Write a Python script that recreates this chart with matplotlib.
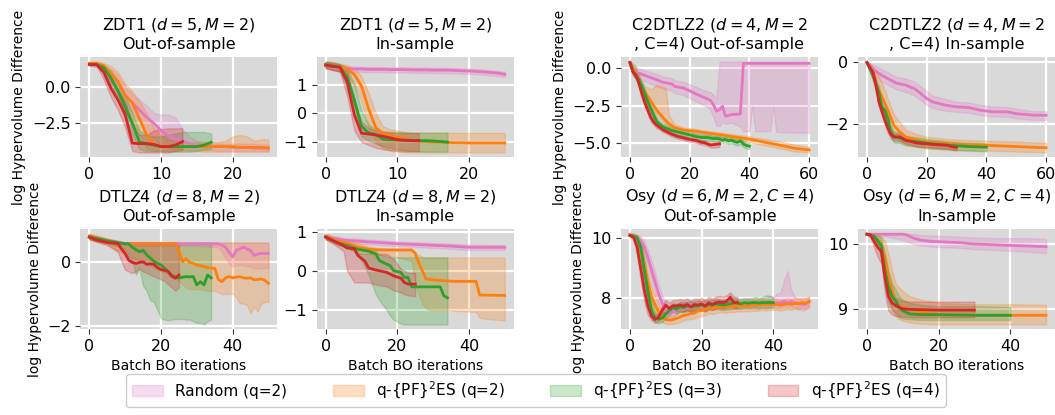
import matplotlib
matplotlib.use("Agg")
import matplotlib.pyplot as plt
from matplotlib.patches import Patch
from matplotlib.ticker import MultipleLocator

# ---------------------------------------------------------------------------
# Methods and colours
# ---------------------------------------------------------------------------
methods = ["rand", "q2", "q3", "q4"]
method_labels = ["Random (q=2)", "q-{PF}$^2$ES (q=2)", "q-{PF}$^2$ES (q=3)", "q-{PF}$^2$ES (q=4)"]
method_colors = ["#e377c2", "#ff7f0e", "#2ca02c", "#d62728"]

# ---------------------------------------------------------------------------
# ZDT1 (d=5, M=2) -- out-of-sample
# ---------------------------------------------------------------------------
zdt1_out_rand_x = list(range(26))
zdt1_out_rand_y = [1.52, 1.45, 1.2, 0.85, 0.3, -0.6, -1.1, -1.6, -2.1, -2.5, -3.0, -3.35, -3.6, -3.75, -3.9, -4.0, -4.05, -4.1, -4.1, -4.1, -4.15, -4.15, -4.15, -4.2, -4.2, -4.2]
zdt1_out_rand_hi = [1.62, 1.6, 1.45, 1.2, 0.8, 0.0, -0.5, -0.9, -1.3, -1.8, -1.9, -1.9, -2.1, -2.9, -3.4, -3.7, -3.8, -3.9, -3.9, -3.9, -3.9, -3.9, -3.9, -3.9, -3.95, -3.95]
zdt1_out_rand_lo = [1.45, 1.3, 0.9, 0.4, -0.3, -1.2, -1.8, -2.4, -3.0, -3.5, -4.0, -4.2, -4.3, -4.3, -4.35, -4.35, -4.35, -4.35, -4.4, -4.4, -4.4, -4.4, -4.4, -4.4, -4.4, -4.4]

zdt1_out_q2_x = list(range(26))
zdt1_out_q2_y = [1.6, 1.6, 1.45, 0.9, 0.35, -0.6, -1.1, -2.2, -3.3, -3.95, -4.05, -4.1, -4.1, -4.1, -4.1, -4.1, -4.1, -4.1, -4.1, -4.1, -4.1, -4.15, -4.15, -4.15, -4.15, -4.2]
zdt1_out_q2_hi = [1.72, 1.72, 1.62, 1.4, 1.0, 0.2, -0.3, -1.0, -1.8, -2.8, -3.3, -3.6, -3.7, -3.8, -3.8, -3.8, -3.8, -3.8, -3.8, -3.7, -3.4, -3.3, -3.4, -3.7, -3.6, -3.6]
zdt1_out_q2_lo = [1.5, 1.5, 1.2, 0.4, -0.3, -1.5, -2.2, -3.3, -4.2, -4.4, -4.4, -4.4, -4.4, -4.4, -4.4, -4.4, -4.45, -4.45, -4.45, -4.45, -4.45, -4.45, -4.45, -4.45, -4.45, -4.45]

zdt1_out_q3_x = list(range(18))
zdt1_out_q3_y = [1.52, 1.52, 1.3, 0.6, -0.3, -1.4, -2.5, -3.8, -3.9, -4.0, -4.1, -4.1, -4.1, -4.1, -4.1, -4.1, -4.0, -3.8]
zdt1_out_q3_hi = [1.62, 1.62, 1.5, 1.1, 0.4, -0.6, -1.8, -3.0, -3.3, -3.4, -3.4, -3.3, -3.2, -3.1, -3.1, -3.1, -3.1, -3.2]
zdt1_out_q3_lo = [1.45, 1.45, 1.1, 0.1, -1.0, -2.2, -3.3, -4.3, -4.4, -4.4, -4.4, -4.45, -4.45, -4.45, -4.45, -4.4, -4.3, -4.25]

zdt1_out_q4_x = list(range(14))
zdt1_out_q4_y = [1.52, 1.52, 1.0, -0.1, -0.9, -1.9, -3.86, -3.9, -3.9, -3.95, -4.1, -4.1, -4.0, -3.75]
zdt1_out_q4_hi = [1.62, 1.62, 1.4, 0.6, -0.2, -1.0, -2.5, -3.3, -3.3, -3.0, -2.9, -2.85, -2.85, -2.85]
zdt1_out_q4_lo = [1.45, 1.45, 0.5, -0.7, -1.6, -2.8, -4.4, -4.5, -4.5, -4.5, -4.5, -4.5, -4.4, -4.3]

# ---------------------------------------------------------------------------
# ZDT1 (d=5, M=2) -- in-sample
# ---------------------------------------------------------------------------
zdt1_in_rand_x = list(range(26))
zdt1_in_rand_y = [1.67, 1.6, 1.56, 1.55, 1.54, 1.54, 1.53, 1.53, 1.53, 1.52, 1.52, 1.52, 1.51, 1.51, 1.51, 1.5, 1.5, 1.5, 1.49, 1.48, 1.47, 1.46, 1.44, 1.42, 1.4, 1.36]
zdt1_in_rand_hi = [1.78, 1.7, 1.64, 1.63, 1.62, 1.62, 1.61, 1.61, 1.61, 1.6, 1.6, 1.6, 1.59, 1.59, 1.59, 1.58, 1.58, 1.58, 1.57, 1.56, 1.55, 1.54, 1.52, 1.5, 1.48, 1.45]
zdt1_in_rand_lo = [1.58, 1.5, 1.46, 1.45, 1.44, 1.44, 1.43, 1.43, 1.43, 1.42, 1.42, 1.42, 1.41, 1.41, 1.41, 1.4, 1.4, 1.4, 1.39, 1.38, 1.37, 1.36, 1.34, 1.32, 1.3, 1.27]

zdt1_in_q2_x = list(range(26))
zdt1_in_q2_y = [1.69, 1.65, 1.6, 1.55, 1.35, 0.95, 0.15, -0.5, -0.7, -0.78, -0.82, -0.88, -0.93, -0.97, -0.98, -1.0, -1.0, -1.01, -1.02, -1.02, -1.03, -1.03, -1.03, -1.03, -1.03, -1.03]
zdt1_in_q2_hi = [1.8, 1.78, 1.72, 1.68, 1.55, 1.3, 0.7, 0.0, -0.45, -0.55, -0.6, -0.65, -0.67, -0.68, -0.68, -0.68, -0.68, -0.68, -0.68, -0.68, -0.68, -0.68, -0.68, -0.68, -0.68, -0.68]
zdt1_in_q2_lo = [1.58, 1.52, 1.45, 1.35, 1.0, 0.4, -0.5, -1.0, -1.2, -1.3, -1.33, -1.35, -1.36, -1.36, -1.36, -1.36, -1.36, -1.36, -1.36, -1.36, -1.36, -1.36, -1.36, -1.36, -1.36, -1.36]

zdt1_in_q3_x = list(range(18))
zdt1_in_q3_y = [1.69, 1.65, 1.6, 1.26, 0.46, -0.45, -0.68, -0.74, -0.9, -0.92, -0.92, -0.93, -0.94, -0.95, -0.95, -0.96, -0.98, -1.0]
zdt1_in_q3_hi = [1.8, 1.78, 1.72, 1.6, 1.0, 0.1, -0.4, -0.55, -0.62, -0.65, -0.65, -0.66, -0.67, -0.67, -0.67, -0.67, -0.67, -0.67]
zdt1_in_q3_lo = [1.58, 1.52, 1.45, 0.9, -0.1, -0.8, -0.95, -1.05, -1.15, -1.2, -1.25, -1.28, -1.3, -1.32, -1.33, -1.33, -1.33, -1.33]

zdt1_in_q4_x = list(range(14))
zdt1_in_q4_y = [1.67, 1.63, 1.6, 1.1, -0.05, -0.69, -0.72, -0.75, -0.8, -0.85, -0.92, -0.94, -0.95, -0.95]
zdt1_in_q4_hi = [1.78, 1.75, 1.7, 1.5, 0.5, -0.3, -0.5, -0.6, -0.65, -0.67, -0.69, -0.69, -0.69, -0.69]
zdt1_in_q4_lo = [1.56, 1.5, 1.45, 0.6, -0.6, -1.0, -1.1, -1.2, -1.25, -1.28, -1.3, -1.32, -1.32, -1.32]

# ---------------------------------------------------------------------------
# DTLZ4 (d=8, M=2) -- out-of-sample
# ---------------------------------------------------------------------------
dtlz4_out_rand_x = [0, 5, 10, 15, 20, 25, 30, 36, 37, 38, 39, 40, 41, 42, 43, 44, 45, 46, 47, 48, 50]
dtlz4_out_rand_y = [0.77, 0.66, 0.57, 0.56, 0.56, 0.56, 0.56, 0.56, 0.52, 0.46, 0.3, 0.15, 0.36, 0.4, 0.46, 0.4, 0.36, 0.2, 0.24, 0.26, 0.26]
dtlz4_out_rand_hi = [0.85, 0.72, 0.62, 0.6, 0.6, 0.6, 0.6, 0.6, 0.6, 0.6, 0.6, 0.6, 0.6, 0.6, 0.6, 0.6, 0.6, 0.6, 0.6, 0.6, 0.6]
dtlz4_out_rand_lo = [0.7, 0.6, 0.52, 0.5, 0.5, 0.5, 0.5, 0.45, 0.3, 0.1, -0.05, -0.15, -0.1, -0.1, -0.1, -0.15, -0.15, -0.2, -0.2, -0.2, -0.2]

dtlz4_out_q2_x = [0, 5, 9, 10, 15, 20, 24, 25, 26, 27, 28, 29, 30, 31, 32, 33, 34, 35, 36, 37, 38, 39, 40, 41, 42, 43, 44, 45, 46, 47, 48, 49, 50]
dtlz4_out_q2_y = [0.8, 0.66, 0.57, 0.56, 0.56, 0.56, 0.56, 0.35, 0.0, 0.1, -0.02, -0.05, -0.1, -0.12, -0.15, -0.18, -0.2, -0.2, -0.55, -0.62, -0.5, -0.46, -0.5, -0.48, -0.46, -0.5, -0.51, -0.5, -0.56, -0.55, -0.53, -0.58, -0.67]
dtlz4_out_q2_hi = [0.88, 0.72, 0.62, 0.6, 0.6, 0.6, 0.6, 0.6, 0.6, 0.6, 0.6, 0.6, 0.6, 0.6, 0.6, 0.6, 0.6, 0.6, 0.6, 0.6, 0.6, 0.6, 0.6, 0.6, 0.6, 0.6, 0.6, 0.6, 0.6, 0.6, 0.6, 0.6, 0.6]
dtlz4_out_q2_lo = [0.72, 0.5, 0.3, 0.2, 0.0, -0.3, -0.5, -0.6, -0.7, -0.8, -0.85, -0.85, -0.85, -0.85, -0.88, -0.9, -0.9, -0.9, -0.95, -1.0, -1.0, -1.0, -1.0, -1.1, -1.3, -1.3, -1.35, -1.6, -1.4, -1.55, -1.3, -1.25, -1.25]

dtlz4_out_q3_x = [0, 5, 10, 11, 12, 13, 14, 15, 16, 17, 18, 19, 20, 21, 22, 23, 24, 25, 26, 27, 28, 29, 30, 31, 32, 33, 34]
dtlz4_out_q3_y = [0.77, 0.65, 0.56, 0.56, 0.45, 0.38, 0.31, 0.36, 0.22, 0.12, 0.02, -0.05, -0.1, -0.2, -0.3, -0.42, -0.48, -0.5, -0.48, -0.46, -0.47, -0.46, -0.72, -0.62, -0.72, -0.41, -0.5]
dtlz4_out_q3_hi = [0.85, 0.72, 0.6, 0.6, 0.6, 0.6, 0.6, 0.6, 0.6, 0.6, 0.6, 0.6, 0.6, 0.6, 0.6, 0.6, 0.6, 0.6, 0.6, 0.6, 0.6, 0.6, 0.6, 0.6, 0.6, 0.6, 0.6]
dtlz4_out_q3_lo = [0.7, 0.58, 0.4, 0.2, 0.0, -0.4, -0.2, -0.75, -0.9, -1.2, -1.25, -1.5, -1.75, -1.8, -1.82, -1.8, -1.78, -1.78, -1.78, -1.8, -1.8, -1.85, -1.9, -1.9, -1.95, -1.85, -1.8]

dtlz4_out_q4_x = [0, 2, 5, 8, 9, 10, 11, 12, 13, 14, 15, 16, 17, 18, 19, 20, 21, 22, 23, 24, 25]
dtlz4_out_q4_y = [0.77, 0.68, 0.6, 0.57, 0.4, 0.26, 0.05, -0.02, -0.05, -0.02, 0.0, -0.08, -0.06, -0.08, -0.18, -0.24, -0.27, -0.3, -0.45, -0.51, -0.41]
dtlz4_out_q4_hi = [0.85, 0.75, 0.66, 0.62, 0.6, 0.6, 0.6, 0.6, 0.6, 0.6, 0.6, 0.6, 0.6, 0.6, 0.6, 0.6, 0.6, 0.6, 0.6, 0.6, 0.6]
dtlz4_out_q4_lo = [0.7, 0.62, 0.54, 0.3, 0.0, -0.25, -0.3, -0.35, -0.3, -0.2, -0.3, -0.35, -0.4, -0.45, -0.5, -0.55, -0.6, -0.7, -0.8, -0.9, -0.8]

# ---------------------------------------------------------------------------
# DTLZ4 (d=8, M=2) -- in-sample
# ---------------------------------------------------------------------------
dtlz4_in_rand_x = [0, 5, 10, 15, 20, 25, 30, 35, 40, 45, 50]
dtlz4_in_rand_y = [0.86, 0.78, 0.75, 0.72, 0.69, 0.67, 0.65, 0.63, 0.6, 0.6, 0.6]
dtlz4_in_rand_hi = [0.92, 0.84, 0.81, 0.78, 0.75, 0.73, 0.71, 0.69, 0.67, 0.66, 0.66]
dtlz4_in_rand_lo = [0.8, 0.72, 0.69, 0.66, 0.63, 0.61, 0.58, 0.56, 0.53, 0.53, 0.53]

dtlz4_in_q2_x = [0, 3, 6, 9, 12, 15, 20, 24, 25, 26, 27, 28, 29, 31, 34, 36, 42, 43, 44, 50]
dtlz4_in_q2_y = [0.88, 0.77, 0.7, 0.61, 0.55, 0.53, 0.53, 0.53, 0.45, 0.2, 0.0, -0.21, -0.22, -0.24, -0.26, -0.27, -0.27, -0.62, -0.62, -0.63]
dtlz4_in_q2_hi = [0.95, 0.85, 0.78, 0.7, 0.62, 0.58, 0.56, 0.56, 0.45, 0.4, 0.36, 0.34, 0.34, 0.34, 0.34, 0.34, 0.34, 0.34, 0.34, 0.34]
dtlz4_in_q2_lo = [0.82, 0.7, 0.62, 0.5, 0.45, 0.42, 0.35, 0.25, -0.3, -0.6, -0.85, -0.95, -1.0, -1.0, -1.0, -1.02, -1.05, -1.2, -1.22, -1.27]

dtlz4_in_q3_x = [0, 3, 6, 9, 12, 14, 15, 17, 18, 19, 21, 22, 23, 24, 32, 33, 34]
dtlz4_in_q3_y = [0.86, 0.73, 0.64, 0.55, 0.5, 0.43, 0.26, 0.17, 0.13, 0.0, -0.04, -0.17, -0.17, -0.41, -0.41, -0.64, -0.69]
dtlz4_in_q3_hi = [0.92, 0.8, 0.7, 0.62, 0.56, 0.5, 0.42, 0.36, 0.34, 0.34, 0.34, 0.34, 0.34, 0.34, 0.34, 0.34, 0.34]
dtlz4_in_q3_lo = [0.8, 0.67, 0.58, 0.45, -0.1, -0.6, -0.75, -1.0, -1.15, -1.25, -1.35, -1.37, -1.37, -1.37, -1.37, -1.37, -1.37]

dtlz4_in_q4_x = [0, 2, 5, 6, 8, 9, 11, 12, 14, 17, 19, 21, 22, 23, 25]
dtlz4_in_q4_y = [0.86, 0.77, 0.64, 0.58, 0.56, 0.39, 0.24, 0.07, 0.02, -0.04, -0.13, -0.19, -0.3, -0.34, -0.34]
dtlz4_in_q4_hi = [0.92, 0.83, 0.7, 0.65, 0.6, 0.45, 0.43, 0.43, 0.43, 0.43, 0.3, 0.05, 0.0, -0.05, -0.05]
dtlz4_in_q4_lo = [0.8, 0.7, 0.5, 0.0, -0.3, -0.3, -0.3, -0.3, -0.35, -0.4, -0.5, -0.55, -0.6, -0.63, -0.65]

# ---------------------------------------------------------------------------
# C2DTLZ2 (d=4, M=2, C=4) -- out-of-sample
# ---------------------------------------------------------------------------
c2_out_rand_x = [0, 1, 3, 6, 9, 11, 14, 15, 18, 21, 24, 26, 27, 28, 29, 30, 31, 32, 34, 37, 38, 40, 41, 42, 47, 48, 49, 55, 60]
c2_out_rand_y = [0.4, -0.2, -0.33, -0.55, -0.77, -0.93, -1.04, -1.21, -1.32, -1.6, -1.88, -2.05, -2.15, -2.45, -2.87, -2.76, -2.54, -3.2, -3.09, -3.05, 0.33, 0.33, 0.33, 0.33, 0.33, 0.33, 0.33, 0.33, 0.33]
c2_out_rand_hi = [0.45, 0.1, 0.0, -0.2, -0.4, -0.55, -0.65, -0.8, -0.9, -1.15, -1.4, -1.55, -1.6, -1.8, -2.0, 0.44, 0.44, 0.44, 0.44, 0.44, 0.44, 0.44, 0.44, 0.44, 0.44, 0.44, 0.44, 0.44, 0.44]
c2_out_rand_lo = [0.35, -0.5, -0.7, -0.95, -1.2, -1.35, -1.5, -1.65, -1.8, -2.1, -2.4, -2.6, -2.8, -3.3, -3.86, -3.86, -3.6, -3.7, -3.64, -3.9, -4.2, -4.2, -2.54, -4.2, -4.2, -2.54, -4.25, -4.3, -4.3]

c2_out_q2_x = [0, 2, 3, 5, 7, 9, 12, 13, 15, 18, 22, 25, 30, 35, 40, 46, 52, 55, 60]
c2_out_q2_y = [0.35, -0.4, -0.88, -1.6, -2.2, -2.8, -3.5, -3.7, -3.97, -4.13, -4.2, -4.3, -4.43, -4.59, -4.73, -4.97, -5.2, -5.34, -5.45]
c2_out_q2_hi = [0.45, -0.1, -0.5, -1.2, -1.4, -1.1, -1.3, -3.1, -3.75, -3.95, -4.05, -4.15, -4.28, -4.42, -4.55, -4.75, -4.95, -5.1, -5.25]
c2_out_q2_lo = [0.25, -0.65, -1.2, -1.9, -2.5, -3.1, -3.8, -3.95, -4.15, -4.3, -4.37, -4.45, -4.6, -4.78, -4.93, -5.18, -5.42, -5.55, -5.62]

c2_out_q3_x = [0, 1, 2, 3, 4, 5, 6, 7, 8, 9, 10, 11, 12, 14, 16, 18, 20, 22, 24, 26, 28, 29, 30, 31, 32, 33, 34, 35, 36, 37, 38, 39, 40]
c2_out_q3_y = [0.35, -0.2, -0.5, -0.8, -1.2, -1.7, -2.25, -2.7, -3.15, -3.55, -3.75, -3.9, -4.0, -4.15, -4.25, -4.35, -4.45, -4.55, -4.62, -4.62, -4.7, -4.68, -4.72, -4.8, -4.75, -4.85, -4.8, -4.9, -4.95, -4.85, -5.05, -5.15, -5.2]
c2_out_q3_hi = [0.45, 0.3, 0.1, -0.5, -0.9, -1.4, -1.95, -2.45, -2.9, -3.3, -3.55, -3.7, -3.8, -3.95, -4.05, -4.15, -4.25, -4.35, -4.42, -4.42, -4.5, -4.48, -4.52, -4.6, -4.55, -4.65, -4.6, -4.7, -4.75, -4.65, -4.85, -4.95, -5.0]
c2_out_q3_lo = [0.25, -0.4, -0.75, -1.1, -1.5, -2.0, -2.55, -2.95, -3.4, -3.8, -3.95, -4.1, -4.2, -4.35, -4.45, -4.55, -4.65, -4.75, -4.82, -4.82, -4.9, -4.88, -4.92, -5.0, -4.95, -5.05, -5.0, -5.1, -5.15, -5.05, -5.25, -5.35, -5.4]

c2_out_q4_x = [0, 1, 2, 3, 4, 5, 6, 7, 8, 9, 10, 11, 12, 14, 16, 18, 20, 22, 24, 25, 26, 27, 28, 30]
c2_out_q4_y = [0.4, -0.25, -0.45, -1.0, -1.7, -2.3, -2.8, -3.3, -3.6, -3.8, -3.95, -4.1, -4.2, -4.4, -4.55, -4.65, -4.75, -4.82, -4.95, -4.97, -5.05, -5.12, -5.1, -5.05]
c2_out_q4_hi = [0.45, 0.0, -0.25, -0.7, -1.4, -2.0, -2.55, -3.05, -3.4, -3.6, -3.8, -3.95, -4.05, -4.25, -4.4, -4.5, -4.6, -4.67, -4.8, -4.82, -4.9, -4.95, -4.95, -4.9]
c2_out_q4_lo = [0.35, -0.45, -0.7, -1.3, -2.0, -2.6, -3.05, -3.55, -3.8, -4.0, -4.1, -4.25, -4.35, -4.55, -4.7, -4.8, -4.9, -4.97, -5.1, -5.12, -5.2, -5.28, -5.3, -5.25]

# ---------------------------------------------------------------------------
# C2DTLZ2 (d=4, M=2, C=4) -- in-sample
# ---------------------------------------------------------------------------
c2_in_rand_x = [0, 2, 5, 8, 10, 13, 16, 18, 20, 22, 26, 30, 34, 38, 42, 47, 50, 56, 60]
c2_in_rand_y = [-0.03, -0.25, -0.45, -0.6, -0.7, -0.76, -0.88, -1.03, -1.19, -1.3, -1.4, -1.46, -1.48, -1.57, -1.62, -1.62, -1.68, -1.73, -1.73]
c2_in_rand_hi = [0.0, -0.1, -0.25, -0.4, -0.5, -0.55, -0.65, -0.8, -0.95, -1.1, -1.2, -1.3, -1.32, -1.4, -1.45, -1.47, -1.52, -1.6, -1.6]
c2_in_rand_lo = [-0.05, -0.4, -0.65, -0.8, -0.9, -0.98, -1.1, -1.25, -1.4, -1.5, -1.58, -1.62, -1.65, -1.72, -1.77, -1.78, -1.83, -1.88, -1.88]

c2_in_q2_x = [0, 2, 3, 6, 7, 9, 11, 13, 17, 20, 25, 31, 40, 50, 60]
c2_in_q2_y = [-0.03, -0.35, -0.7, -1.35, -1.57, -2.05, -2.27, -2.43, -2.54, -2.59, -2.63, -2.67, -2.7, -2.74, -2.78]
c2_in_q2_hi = [0.0, -0.15, -0.3, -0.9, -1.2, -1.7, -1.95, -2.2, -2.35, -2.42, -2.48, -2.52, -2.55, -2.58, -2.62]
c2_in_q2_lo = [-0.06, -0.6, -1.0, -1.75, -2.0, -2.35, -2.55, -2.68, -2.76, -2.8, -2.83, -2.86, -2.87, -2.9, -2.93]

c2_in_q3_x = [0, 2, 4, 5, 6, 7, 8, 9, 11, 13, 17, 22, 28, 34, 40]
c2_in_q3_y = [-0.03, -0.45, -1.0, -1.46, -1.57, -1.84, -2.27, -2.43, -2.45, -2.54, -2.59, -2.65, -2.7, -2.74, -2.76]
c2_in_q3_hi = [0.0, -0.3, -0.8, -1.25, -1.35, -1.6, -2.05, -2.25, -2.3, -2.4, -2.45, -2.52, -2.58, -2.62, -2.64]
c2_in_q3_lo = [-0.06, -0.6, -1.2, -1.65, -1.8, -2.08, -2.45, -2.6, -2.62, -2.7, -2.75, -2.8, -2.84, -2.87, -2.9]

c2_in_q4_x = [0, 2, 3, 4, 5, 6, 7, 8, 9, 11, 13, 17, 22, 27, 29, 30]
c2_in_q4_y = [-0.03, -0.35, -0.75, -1.3, -1.6, -1.89, -2.15, -2.35, -2.43, -2.43, -2.54, -2.63, -2.67, -2.7, -2.76, -2.76]
c2_in_q4_hi = [0.0, -0.22, -0.6, -1.15, -1.45, -1.75, -2.0, -2.22, -2.32, -2.33, -2.44, -2.53, -2.57, -2.6, -2.66, -2.66]
c2_in_q4_lo = [-0.06, -0.48, -0.9, -1.45, -1.75, -2.03, -2.3, -2.48, -2.54, -2.55, -2.64, -2.73, -2.77, -2.8, -2.86, -2.86]

# ---------------------------------------------------------------------------
# Osy (d=6, M=2, C=4) -- out-of-sample
# ---------------------------------------------------------------------------
osy_out_rand_x = list(range(51))
osy_out_rand_y = [10.08, 10.07, 10.0, 9.9, 9.7, 9.35, 8.95, 8.55, 8.15, 7.85, 7.6, 7.48, 7.55, 7.65, 7.72, 7.74, 7.72, 7.76, 7.74, 7.78, 7.76, 7.8, 7.78, 7.8, 7.8, 7.82, 7.8, 7.82, 7.8, 7.82, 7.8, 7.84, 7.82, 7.84, 7.82, 7.84, 7.82, 7.85, 7.84, 7.86, 7.84, 7.86, 7.85, 7.9, 7.86, 7.9, 7.86, 7.84, 7.8, 7.8, 7.9]
osy_out_rand_hi = [10.14, 10.14, 10.1, 10.05, 9.9, 9.6, 9.25, 8.85, 8.45, 8.1, 7.8, 7.66, 7.72, 7.82, 7.88, 7.9, 7.88, 7.92, 7.9, 7.94, 7.92, 7.96, 7.94, 7.96, 7.96, 7.98, 7.96, 7.98, 7.96, 7.98, 7.96, 8.0, 7.98, 8.0, 7.98, 8.0, 7.98, 8.02, 8.0, 8.1, 8.04, 8.15, 8.2, 8.6, 8.9, 8.3, 8.05, 8.02, 7.98, 8.0, 8.05]
osy_out_rand_lo = [10.02, 10.0, 9.9, 9.75, 9.5, 9.1, 8.65, 8.25, 7.85, 7.6, 7.4, 7.3, 7.38, 7.48, 7.55, 7.58, 7.56, 7.6, 7.58, 7.62, 7.6, 7.64, 7.62, 7.64, 7.64, 7.66, 7.64, 7.66, 7.64, 7.66, 7.64, 7.68, 7.66, 7.68, 7.66, 7.68, 7.66, 7.69, 7.68, 7.7, 7.68, 7.7, 7.69, 7.72, 7.7, 7.72, 7.7, 7.66, 7.6, 7.62, 7.72]

osy_out_q2_x = list(range(51))
osy_out_q2_y = [10.1, 10.08, 9.95, 9.65, 9.1, 8.55, 8.05, 7.8, 7.55, 7.4, 7.3, 7.28, 7.3, 7.34, 7.38, 7.44, 7.46, 7.5, 7.52, 7.58, 7.6, 7.62, 7.68, 7.66, 7.7, 7.72, 7.72, 7.7, 7.74, 7.72, 7.76, 7.74, 7.76, 7.75, 7.78, 7.76, 7.78, 7.8, 7.78, 7.8, 7.8, 7.8, 7.78, 7.8, 7.82, 7.8, 7.84, 7.82, 7.86, 7.84, 7.9]
osy_out_q2_hi = [10.14, 10.14, 10.08, 9.9, 9.45, 8.9, 8.4, 8.1, 7.8, 7.6, 7.45, 7.42, 7.45, 7.5, 7.55, 7.6, 7.62, 7.68, 7.7, 7.76, 7.8, 7.82, 7.86, 7.84, 7.88, 7.9, 7.9, 7.88, 7.92, 7.9, 7.95, 7.92, 7.95, 7.94, 7.96, 7.95, 7.97, 7.98, 7.96, 7.98, 8.0, 7.98, 7.96, 7.98, 8.0, 7.98, 8.02, 8.0, 8.04, 8.02, 8.08]
osy_out_q2_lo = [10.06, 10.0, 9.8, 9.4, 8.75, 8.2, 7.7, 7.5, 7.32, 7.22, 7.16, 7.14, 7.16, 7.18, 7.22, 7.28, 7.3, 7.32, 7.34, 7.4, 7.42, 7.44, 7.5, 7.48, 7.52, 7.54, 7.54, 7.52, 7.56, 7.54, 7.58, 7.56, 7.58, 7.57, 7.6, 7.58, 7.6, 7.62, 7.6, 7.62, 7.62, 7.62, 7.6, 7.62, 7.64, 7.62, 7.66, 7.64, 7.68, 7.66, 7.72]

osy_out_q3_x = list(range(41))
osy_out_q3_y = [10.08, 10.05, 10.0, 9.7, 8.95, 8.25, 7.6, 7.35, 7.32, 7.35, 7.48, 7.6, 7.7, 7.65, 7.72, 7.7, 7.75, 7.72, 7.74, 7.76, 7.78, 7.74, 7.8, 7.78, 7.82, 7.8, 7.78, 7.8, 7.82, 7.85, 7.84, 7.82, 7.86, 7.84, 7.86, 7.86, 7.85, 7.86, 7.86, 7.87, 7.86]
osy_out_q3_hi = [10.12, 10.1, 10.1, 9.95, 9.3, 8.6, 7.9, 7.55, 7.48, 7.5, 7.62, 7.75, 7.85, 7.82, 7.88, 7.86, 7.9, 7.88, 7.9, 7.92, 7.94, 7.9, 7.96, 7.94, 8.0, 7.96, 7.94, 7.98, 8.0, 8.05, 8.0, 7.98, 8.02, 8.0, 8.02, 8.05, 8.02, 8.04, 8.1, 8.08, 8.04]
osy_out_q3_lo = [10.04, 10.0, 9.85, 9.4, 8.55, 7.9, 7.35, 7.2, 7.18, 7.22, 7.35, 7.46, 7.55, 7.5, 7.56, 7.55, 7.6, 7.56, 7.58, 7.6, 7.62, 7.58, 7.64, 7.62, 7.66, 7.64, 7.62, 7.64, 7.66, 7.68, 7.68, 7.66, 7.7, 7.68, 7.7, 7.7, 7.68, 7.7, 7.68, 7.7, 7.7]

osy_out_q4_x = list(range(31))
osy_out_q4_y = [10.08, 10.02, 9.7, 9.0, 8.3, 7.75, 7.42, 7.3, 7.38, 7.6, 7.78, 7.66, 7.76, 7.75, 7.78, 7.75, 7.8, 7.72, 7.8, 7.78, 7.82, 7.75, 7.85, 7.8, 7.86, 7.88, 7.86, 7.9, 8.04, 7.86, 7.86]
osy_out_q4_hi = [10.12, 10.1, 9.95, 9.4, 8.7, 8.1, 7.6, 7.45, 7.5, 7.75, 7.95, 7.85, 7.95, 7.95, 7.98, 7.95, 8.0, 7.92, 8.0, 7.98, 8.02, 7.95, 8.05, 8.0, 8.06, 8.08, 8.06, 8.1, 8.2, 8.05, 8.05]
osy_out_q4_lo = [10.04, 9.95, 9.4, 8.6, 7.9, 7.45, 7.28, 7.2, 7.25, 7.45, 7.6, 7.48, 7.58, 7.56, 7.6, 7.56, 7.62, 7.54, 7.62, 7.6, 7.64, 7.56, 7.66, 7.62, 7.68, 7.7, 7.68, 7.72, 7.85, 7.68, 7.68]

# ---------------------------------------------------------------------------
# Osy (d=6, M=2, C=4) -- in-sample
# ---------------------------------------------------------------------------
osy_in_rand_x = [0, 5, 10, 11, 13, 15, 18, 22, 26, 30, 35, 39, 45, 50]
osy_in_rand_y = [10.15, 10.15, 10.15, 10.14, 10.09, 10.06, 10.04, 10.03, 10.02, 10.0, 9.99, 9.98, 9.97, 9.96]
osy_in_rand_hi = [10.16, 10.16, 10.16, 10.16, 10.15, 10.14, 10.13, 10.12, 10.11, 10.1, 10.09, 10.09, 10.09, 10.08]
osy_in_rand_lo = [10.14, 10.12, 10.06, 10.04, 10.0, 9.98, 9.96, 9.95, 9.94, 9.92, 9.91, 9.9, 9.88, 9.86]

osy_in_q2_x = [0, 1, 3, 4, 5, 6, 7, 8, 9, 10, 12, 15, 20, 30, 40, 50]
osy_in_q2_y = [10.15, 10.14, 10.07, 9.99, 9.8, 9.5, 9.3, 9.13, 9.06, 9.03, 9.0, 8.96, 8.92, 8.91, 8.91, 8.91]
osy_in_q2_hi = [10.16, 10.16, 10.14, 10.12, 10.05, 9.85, 9.6, 9.4, 9.33, 9.28, 9.2, 9.15, 9.1, 9.08, 9.08, 9.07]
osy_in_q2_lo = [10.14, 10.12, 9.98, 9.85, 9.55, 9.2, 9.0, 8.9, 8.85, 8.83, 8.8, 8.78, 8.77, 8.77, 8.77, 8.77]

osy_in_q3_x = [0, 2, 3, 4, 5, 6, 7, 8, 9, 10, 12, 15, 19, 30, 40]
osy_in_q3_y = [10.15, 10.12, 10.05, 9.97, 9.6, 9.35, 9.2, 9.13, 9.03, 8.98, 8.93, 8.92, 8.92, 8.91, 8.91]
osy_in_q3_hi = [10.16, 10.15, 10.13, 10.1, 9.85, 9.6, 9.4, 9.3, 9.2, 9.15, 9.1, 9.07, 9.05, 9.05, 9.04]
osy_in_q3_lo = [10.14, 10.08, 9.95, 9.8, 9.35, 9.1, 9.0, 8.95, 8.88, 8.86, 8.85, 8.84, 8.84, 8.84, 8.84]

osy_in_q4_x = [0, 1, 2, 3, 4, 5, 6, 7, 8, 9, 10, 12, 20, 30]
osy_in_q4_y = [10.15, 10.14, 10.04, 9.95, 9.89, 9.5, 9.2, 9.1, 9.06, 9.03, 9.01, 9.0, 8.99, 8.99]
osy_in_q4_hi = [10.16, 10.16, 10.12, 10.08, 10.02, 9.8, 9.45, 9.25, 9.18, 9.15, 9.13, 9.12, 9.12, 9.12]
osy_in_q4_lo = [10.14, 10.1, 9.95, 9.8, 9.7, 9.25, 8.98, 8.92, 8.9, 8.89, 8.89, 8.88, 8.88, 8.88]

# ---------------------------------------------------------------------------
# Panel descriptions: (key, title, row, col, x tick step, y tick step)
# ---------------------------------------------------------------------------
panels = [
    ("zdt1_out", "ZDT1 ($d=5, M=2$)\nOut-of-sample", 0, 0, 10, 2.5),
    ("zdt1_in", "ZDT1 ($d=5, M=2$)\nIn-sample", 0, 1, 10, 1),
    ("c2_out", "C2DTLZ2 ($d=4, M=2$\n, C=4) Out-of-sample", 0, 2, 20, 2.5),
    ("c2_in", "C2DTLZ2 ($d=4, M=2$\n, C=4) In-sample", 0, 3, 20, 2),
    ("dtlz4_out", "DTLZ4 ($d=8, M=2$)\nOut-of-sample", 1, 0, 20, 2),
    ("dtlz4_in", "DTLZ4 ($d=8, M=2$)\nIn-sample", 1, 1, 20, 1),
    ("osy_out", "Osy ($d=6, M=2, C=4$)\nOut-of-sample", 1, 2, 20, 2),
    ("osy_in", "Osy ($d=6, M=2, C=4$)\nIn-sample", 1, 3, 20, 1),
]

data = globals()

W, H = 1055, 415
col_px = [(80.4, 277.4), (316.7, 513.7), (621.0, 818.0), (858.0, 1055.0)]
row_px = [(57.0, 157.0), (229.0, 329.0)]

plt.rcParams.update({
    "font.family": "DejaVu Sans",
    "axes.facecolor": "#d9d9d9",
    "axes.edgecolor": "none",
    "axes.grid": True,
    "grid.color": "white",
    "grid.linewidth": 1.6,
    "xtick.color": "#333333",
    "ytick.color": "#333333",
    "xtick.labelcolor": "black",
    "ytick.labelcolor": "black",
    "xtick.major.size": 3.5,
    "ytick.major.size": 3.5,
    "xtick.labelsize": 11.5,
    "ytick.labelsize": 11.5,
})

fig = plt.figure(figsize=(W / 100, H / 100), dpi=100)

for key, title, r, c, xstep, ystep in panels:
    x0, x1 = col_px[c]
    y0, y1 = row_px[r]
    ax = fig.add_axes([x0 / W, 1 - y1 / H, (x1 - x0) / W, (y1 - y0) / H])
    ax.set_axisbelow(True)
    for spine in ax.spines.values():
        spine.set_visible(False)
    for m, color in zip(methods, method_colors):
        xs = data[f"{key}_{m}_x"]
        ys = data[f"{key}_{m}_y"]
        lo = data[f"{key}_{m}_lo"]
        hi = data[f"{key}_{m}_hi"]
        ax.fill_between(xs, lo, hi, color=color, alpha=0.25, linewidth=1)
        ax.plot(xs, ys, color=color, linewidth=2)
    ax.xaxis.set_major_locator(MultipleLocator(xstep))
    ax.yaxis.set_major_locator(MultipleLocator(ystep))
    ax.set_title(title, fontsize=11.5)
    if c in (0, 2):
        ax.set_ylabel("log Hypervolume Difference", fontsize=10)
    if r == 1:
        ax.set_xlabel("Batch BO iterations", fontsize=10)

handles = [Patch(facecolor=col, edgecolor=col, alpha=0.25, label=lab)
           for col, lab in zip(method_colors, method_labels)]
fig.legend(handles=handles, loc="lower center", bbox_to_anchor=(0.508, 0.0),
           ncol=4, fontsize=11, columnspacing=3.0, frameon=True,
           facecolor="white", edgecolor="#cccccc", framealpha=1.0)

fig.savefig("out.png", dpi=100)
